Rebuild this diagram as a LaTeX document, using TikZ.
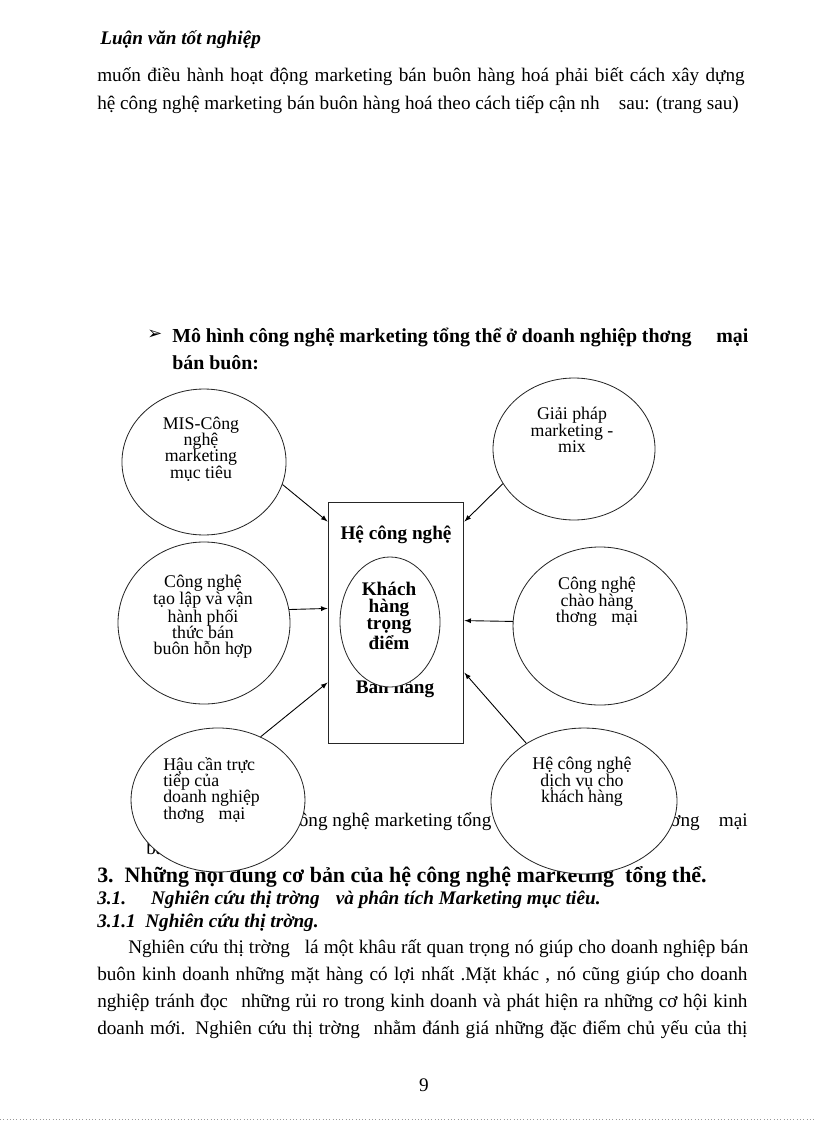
\documentclass[tikz,border=0pt]{standalone}
\usepackage{fontspec}
\setmainfont{Liberation Serif}
\newfontfamily\symfont{DejaVu Sans}
\usetikzlibrary{shapes.geometric}
\begin{document}
\begin{tikzpicture}[x=0.729pt,y=-0.729pt]
    \tikzset{bubble/.style={draw=black!85,ellipse,fill=white,inner sep=0pt,line width=0.6pt},
             txt/.style={font=\fontsize{13}{11.9}\selectfont,align=center,inner sep=0pt},
             bold/.style={font=\fontsize{14}{12.4}\selectfont\bfseries,align=center,inner sep=0pt},
             body/.style={font=\fontsize{14}{14}\selectfont,anchor=west,inner sep=0pt},
             link/.style={line width=0.65pt,-latex}};
    \useasboundingbox (0,0) rectangle (816,1123);
    % text above the diagram
    \node[body,font=\fontsize{14}{14}\selectfont\bfseries\itshape] (tieude) at (100,40) {Luận văn tốt nghiệp};
    \node[body] (dong1) at (97,77) {\makebox[472pt][s]{muốn điều hành hoạt động marketing bán buôn hàng hoá phải biết cách xây dựng}};
    \node[body] (dong2) at (97,105) {hệ công nghệ marketing bán buôn hàng hoá theo cách tiếp cận nh\hspace{1em}sau: (trang sau)};
    \node[body,font=\symfont\fontsize{13}{13}\selectfont] (dau) at (147,335) {➢};
    \node[body,font=\fontsize{14.5}{14.5}\selectfont\bfseries] (muc) at (172,337) {\makebox[420pt][s]{Mô hình công nghệ marketing tổng thể ở doanh nghiệp thơng\hspace{1em} mại}};
    \node[body,font=\fontsize{14.5}{14.5}\selectfont\bfseries] (muc2) at (172,363) {bán buôn:};
    % caption and heading, partly hidden by the circles
    \node[body] (chuthich) at (290,822) {công nghệ marketing tổng};
    \node[body,anchor=east] (chuthich2) at (748,822) {thơng\hspace{1em}mại};
    \node[body] (chuthich3) at (146,848) {bán buôn};
    \node[body,font=\fontsize{16}{16}\selectfont\bfseries] (muc3) at (97,877) {3.\ \ Những nội dung cơ bản của hệ công nghệ marketing\ \ tổng thể.};
    % circles
    \node[bubble,minimum width=119.6pt,minimum height=106.4pt] (mis) at (204,462) {};
    \node[bubble,minimum width=118.1pt,minimum height=103.5pt] (mix) at (574,449) {};
    \node[bubble,minimum width=125.4pt,minimum height=118.1pt] (taolap) at (204,623) {};
    \node[bubble,minimum width=126.8pt,minimum height=115.2pt] (chaohang) at (600,626) {};
    \node[bubble,minimum width=126.8pt,minimum height=105pt] (haucan) at (218,800) {};
    \node[bubble,minimum width=135.6pt,minimum height=106.4pt] (dichvu) at (584,801) {};
    \node[txt] (mis-t) at (201,449) {MIS-Công\\nghệ\\marketing\\mục tiêu};
    \node[txt] (mix-t) at (572,430) {Giải pháp\\marketing -\\mix};
    \node[txt] (taolap-t) at (203,617) {Công nghệ\\tạo lập và vận\\hành phối\\thức bán\\buôn hỗn hợp};
    \node[txt] (chaohang-t) at (597,602) {Công nghệ\\chào hàng\\thơng\hspace{0.8em}mại};
    \node[txt,align=left,anchor=west] (haucan-t) at (163,790) {Hậu cần trực\\tiếp của\\doanh nghiệp\\thơng\hspace{0.8em}mại};
    \node[txt] (dichvu-t) at (582,782) {Hệ công nghệ\\dịch vụ cho\\khách hàng};
    % centre box
    \node[draw=black!85,line width=0.7pt,minimum width=99.1pt,minimum height=175pt,inner sep=0pt] (he) at (396,623) {};
    \node[bold] (he-t) at (396,535) {Hệ công nghệ};
    \node[bold] (banhang) at (395,689) {Bán hàng};
    \node[bubble,minimum width=72.9pt,minimum height=94.8pt] (khach) at (390,622) {};
    \node[bold] (khach-t) at (389,616) {Khách\\hàng\\trọng\\điểm};
    % arrows into the box
    \draw[link] (mis.-16) -- (he.124);
    \draw[link] (mix.206) -- (he.56);
    \draw[link] (taolap.9) -- (he.168);
    \draw[link] (chaohang.177) -- (he.2);
    \draw[link] (haucan.56) -- (he.221);
    \draw[link] (dichvu.135) -- (he.-36);
    % text below the diagram
    \node[body,font=\fontsize{14}{14}\selectfont\bfseries\itshape] (muc31) at (97,900) {3.1.\hspace{1.3em}Nghiên cứu thị trờng\hspace{0.6em} và phân tích Marketing mục tiêu.};
    \node[body,font=\fontsize{14}{14}\selectfont\bfseries\itshape] (muc311) at (97,923) {3.1.1\ \ Nghiên cứu thị trờng.};
    \node[body] (p1) at (128,949) {\makebox[452pt][s]{Nghiên cứu thị trờng\hspace{0.5em} lá một khâu rất quan trọng nó giúp cho doanh nghiệp bán}};
    \node[body] (p2) at (97,976) {\makebox[474pt][s]{buôn kinh doanh những mặt hàng có lợi nhất .Mặt khác , nó cũng giúp cho doanh}};
    \node[body] (p3) at (97,1003) {\makebox[474pt][s]{nghiệp tránh đọc\hspace{0.4em} những rủi ro trong kinh doanh và phát hiện ra những cơ hội kinh}};
    \node[body] (p4) at (97,1030) {\makebox[474pt][s]{doanh mới. Nghiên cứu thị trờng\hspace{0.4em} nhằm đánh giá những đặc điểm chủ yếu của thị}};
    \node[body,anchor=center] (trang) at (424,1085) {9};
    \draw[black!40,dotted] (0,1119) -- (816,1119);
\end{tikzpicture}
\end{document}
